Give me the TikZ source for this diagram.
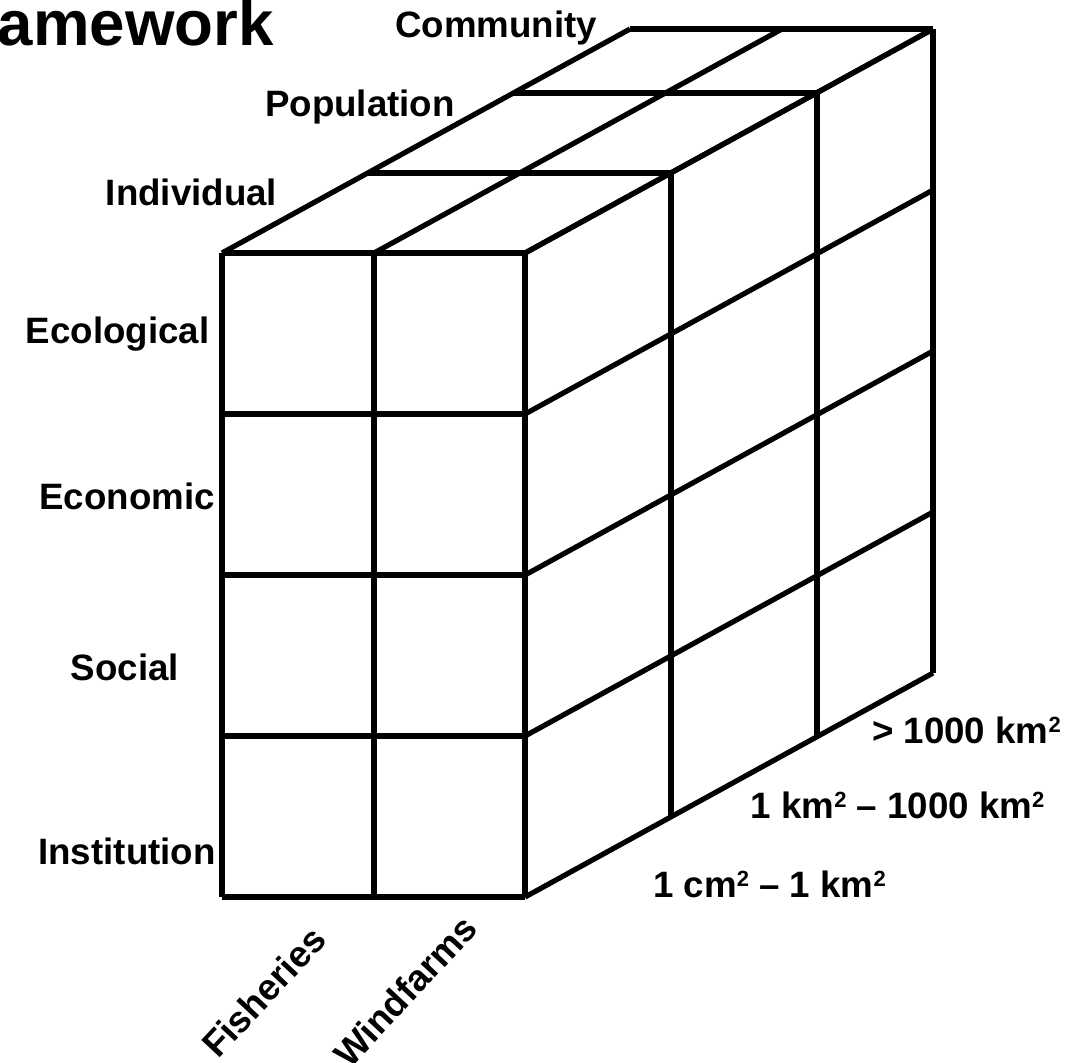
\documentclass[tikz,border=0pt]{standalone}
\usepackage{fontspec}
\setmainfont{Liberation Sans}
\newcommand\sqtwo{\raisebox{5.4pt}{\fontsize{11}{12}\selectfont 2}}
\begin{document}
\begin{tikzpicture}[x=0.5pt,y=-0.5pt,
  grid/.style={line width=2.6pt, draw=black},
  lab/.style={font=\fontsize{18.35}{22}\selectfont\bfseries, inner sep=0pt, anchor=base},
  rlab/.style={font=\fontsize{18.35}{22}\selectfont\bfseries, inner sep=0pt, anchor=center, rotate=47},
  ttl/.style={font=\fontsize{31.8}{36}\selectfont\bfseries, inner sep=0pt, anchor=base east}]
\useasboundingbox (0,0) rectangle (1081,1062);
\clip (0,0) rectangle (1081,1062);

% front face
\foreach \y in {253,414,575,736,897} \draw[grid] (222,\y) -- (525,\y);
\foreach \x in {222,374,525} \draw[grid] (\x,253) -- (\x,897);

% top face
\foreach \x in {222,374,525} \draw[grid] (\x,253) -- ++(408,-224);
\foreach \dx/\dy in {146/80,292/160,408/224} \draw[grid] (222+\dx,253-\dy) -- (525+\dx,253-\dy);

% right face
\foreach \y in {253,414,575,736,897} \draw[grid] (525,\y) -- ++(408,-224);
\foreach \dx/\dy in {146/80,292/160,408/224} \draw[grid] (525+\dx,253-\dy) -- (525+\dx,897-\dy);

% labels
\node[ttl] (title) at (274,45) {amework};
\node[lab] (community) at (496,37) {Community};
\node[lab] (population) at (360,116) {Population};
\node[lab] (individual) at (191.5,205) {Individual};
\node[lab] (ecological) at (117.5,343) {Ecological};
\node[lab] (economic) at (127,509) {Economic};
\node[lab] (social) at (125,680) {Social};
\node[lab] (institution) at (127,864) {Institution};
\node[lab] (large) at (966.5,743) {> 1000 km\sqtwo};
\node[lab] (medium) at (897.5,818) {1 km\sqtwo{} -- 1000 km\sqtwo};
\node[lab] (small) at (769.5,897) {1 cm\sqtwo{} -- 1 km\sqtwo};
\node[rlab] (fisheries) at (263.5,992) {Fisheries};
\node[rlab] (windfarms) at (405,991) {Windfarms};
\end{tikzpicture}
\end{document}
